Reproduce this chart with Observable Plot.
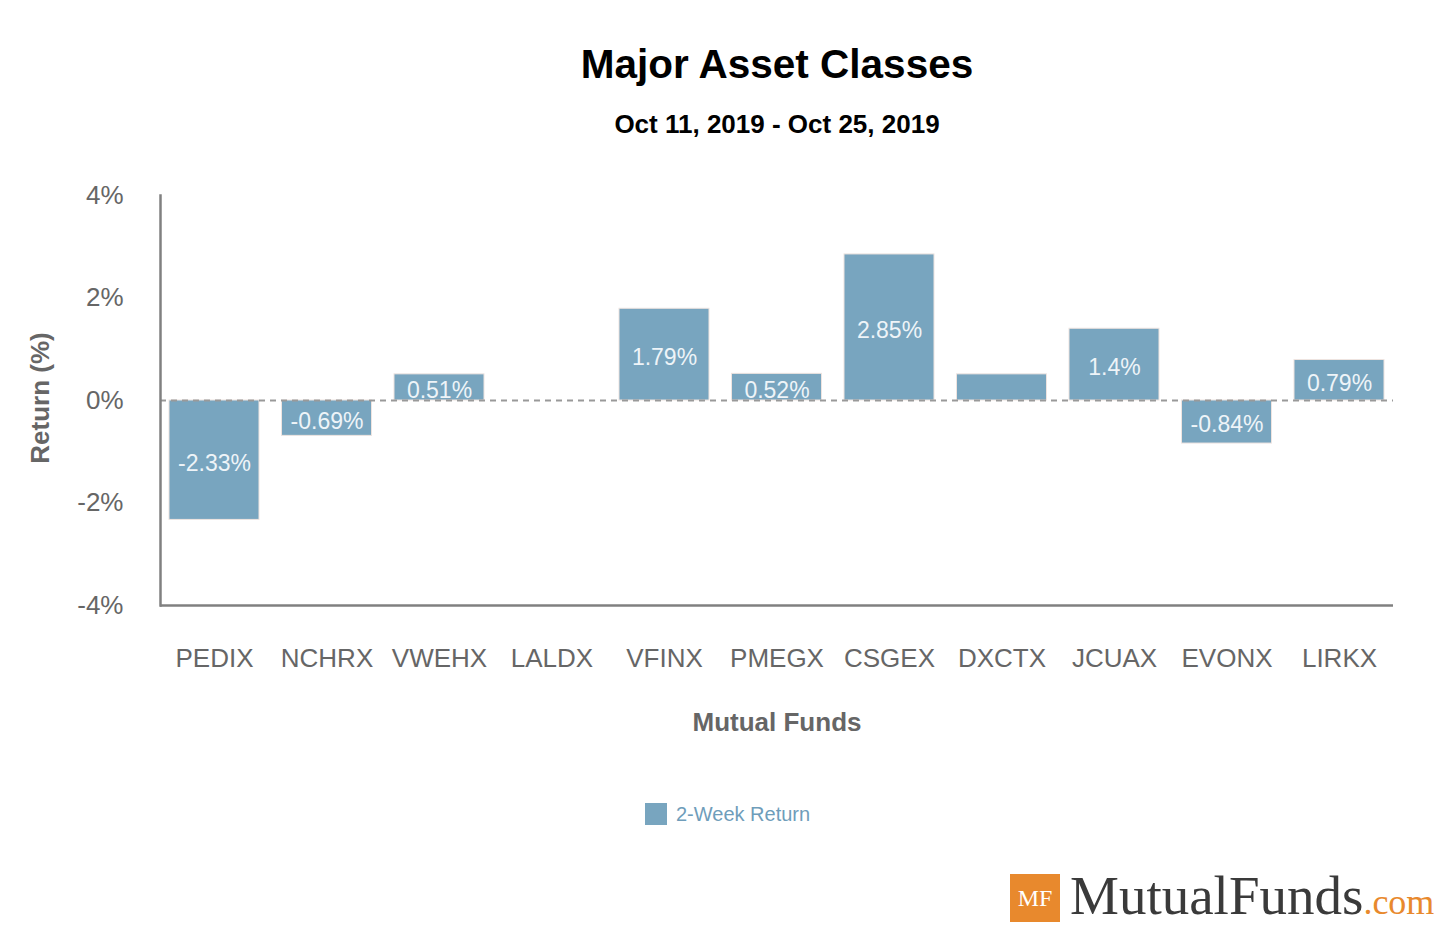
<!DOCTYPE html>
<html>
<head>
<meta charset="utf-8">
<script src="https://cdn.jsdelivr.net/npm/d3@7"></script>
<script src="https://cdn.jsdelivr.net/npm/@observablehq/plot@0.6"></script>
<style>
  body { margin: 0; background: #fff; }
  #wrap { position: relative; width: 1445px; height: 925px; overflow: hidden; font-family: "Liberation Sans", Arial, sans-serif; }
  .abs { position: absolute; white-space: nowrap; }
  #chart { position: absolute; left: 0; top: 170px; }
</style>
</head>
<body>
<div id="wrap">
  <div class="abs" style="left:160px;width:1234px;top:44px;text-align:center;font-size:40.5px;line-height:40px;font-weight:bold;color:#000;">Major Asset Classes</div>
  <div class="abs" style="left:160px;width:1234px;top:111px;text-align:center;font-size:26px;line-height:26px;font-weight:bold;color:#000;">Oct 11, 2019 - Oct 25, 2019</div>
  <div id="chart"></div>
  <div class="abs" style="left:160px;width:1234px;top:709px;text-align:center;font-size:26px;line-height:26px;font-weight:bold;color:#666;">Mutual Funds</div>
  <div class="abs" style="left:-110px;width:300px;top:385px;text-align:center;font-size:26px;line-height:26px;font-weight:bold;color:#666;transform:rotate(-90deg);">Return (%)</div>
  <div class="abs" style="left:645px;top:803px;width:22px;height:22px;background:#78a5bf;"></div>
  <div class="abs" style="left:676px;top:804px;font-size:20px;line-height:20px;color:#6f9dba;">2-Week Return</div>
  <div class="abs" style="left:1010px;top:874px;width:50px;height:48px;background:#e8892d;color:#fff;font-family:'Liberation Serif',serif;font-size:24px;line-height:48px;text-align:center;">MF</div>
  <div class="abs" style="left:1070px;top:868px;width:372px;height:56px;font-family:'Liberation Serif',serif;font-size:55px;line-height:56px;color:#3a3a3a;">MutualFunds<span style="font-size:36px;color:#e8892d;">.com</span></div>
</div>
<script>
const categories = ["PEDIX", "NCHRX", "VWEHX", "LALDX", "VFINX", "PMEGX", "CSGEX", "DXCTX", "JCUAX", "EVONX", "LIRKX"];
const returns = [-2.33, -0.69, 0.51, 0, 1.79, 0.52, 2.85, 0.51, 1.4, -0.84, 0.79];
const labels = ["-2.33%", "-0.69%", "0.51%", "", "1.79%", "0.52%", "2.85%", "", "1.4%", "-0.84%", "0.79%"];
const yTicks = [-4, -2, 0, 2, 4];

const data = categories.map((c, i) => ({fund: c, ret: returns[i], label: labels[i]}));

const chart = Plot.plot({
  width: 1445,
  height: 580,
  marginTop: 25,
  marginBottom: 145,
  marginLeft: 160,
  marginRight: 52,
  style: {fontFamily: "'Liberation Sans', Arial, sans-serif", background: "transparent", overflow: "visible"},
  x: {domain: categories, paddingInner: 0.2, paddingOuter: 0.08, round: false},
  y: {domain: [-4, 4]},
  marks: [
    Plot.barY(data, {x: "fund", y: "ret", fill: "#78a5bf", stroke: "#eee4e0", strokeWidth: 1}),
    Plot.ruleY([0], {stroke: "#999", strokeWidth: 2, strokeDasharray: "6,5"}),
    Plot.text(data, {x: "fund", y: d => d.ret / 2, text: "label", fill: "#eef4f8", fontSize: 23, dy: 3}),
    Plot.axisY({ticks: yTicks, tickFormat: d => d + "%", tickSize: 0, tickPadding: 37, fontSize: 26, fill: "#666", label: null}),
    Plot.axisX({tickSize: 0, tickPadding: 43, fontSize: 26, fill: "#666", label: null}),
    Plot.frame({anchor: "left", stroke: "#808080", strokeWidth: 2.5}),
    Plot.ruleY([-4], {stroke: "#808080", strokeWidth: 2.5})
  ]
});
document.getElementById("chart").appendChild(chart);
</script>
</body>
</html>
